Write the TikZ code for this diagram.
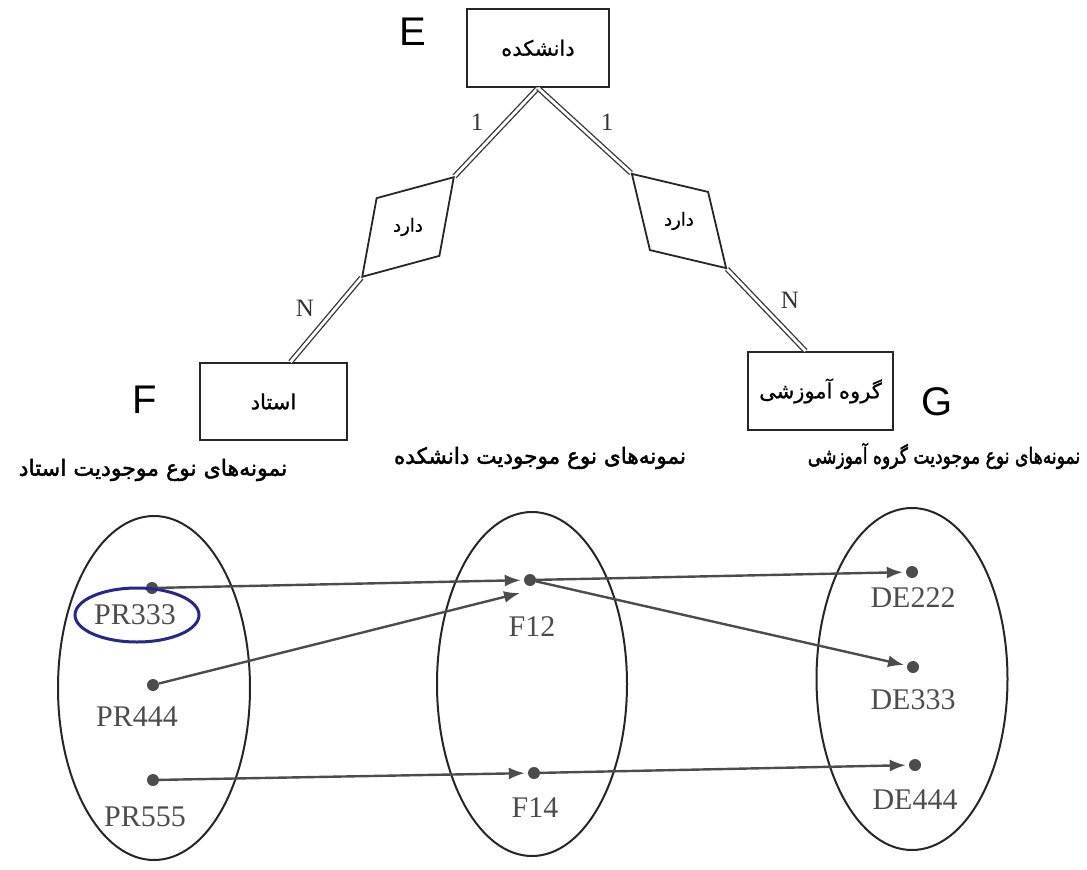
\documentclass[tikz,border=0pt]{standalone}
\usepackage{fontspec}
\setmainfont{Liberation Serif}
\newfontfamily\fafont[Script=Arabic,FakeBold=0.8]{DejaVu Sans}
\newfontfamily\faheadfont[Script=Arabic,FakeBold=2]{DejaVu Sans}
\newfontfamily\tagfont{Liberation Sans}
\TeXXeTstate=1
\usetikzlibrary{positioning,arrows.meta,calc,shapes.geometric}
\definecolor{ringblue}{RGB}{38,38,140}
\newcommand{\rtl}[1]{\beginR #1\endR}

\begin{document}
\begin{tikzpicture}[x=1pt, y=-1pt, >={Latex[length=16pt,width=12pt]},
    entity/.style={draw=black!85, line width=2pt, minimum width=142pt,
      minimum height=78pt, font=\fafont\fontsize{21}{24}\selectfont},
    relship/.style={diamond, draw=black!85, line width=1.8pt,
      minimum width=136pt, minimum height=86pt, inner sep=0pt},
    link/.style={draw=black!80, line width=1.3pt, double=white, double distance=2.8pt},
    card/.style={font=\fontsize{25}{28}\selectfont, text=black!80},
    tag/.style={font=\tagfont\fontsize{40}{44}\selectfont},
    head/.style={font=\faheadfont\fontsize{22}{26}\selectfont},
    setbox/.style={ellipse, draw=black!85, line width=2pt,
      minimum width=192pt, minimum height=344pt},
    inst/.style={circle, fill=black!70, minimum size=12pt, inner sep=0pt},
    val/.style={font=\fontsize{30}{34}\selectfont, text=black!70},
    flow/.style={->, draw=black!70, line width=2.4pt, shorten >=3pt}]
  \useasboundingbox (0,0) rectangle (1087,870);

  % ER part
  \node[entity] (fac) at (538,48) {\rtl{دانشکده}};
  \node[entity, minimum width=147pt, minimum height=77pt] (prof) at (273.5,401.5) {\rtl{استاد}};
  \node[entity, minimum width=145pt] (dept) at (820.5,391) {\rtl{گروه آموزشی}};

  \node[relship, rotate=47.4] (hasL) at (408,227) {};
  \node[font=\fafont\fontsize{18}{20}\selectfont] (hasLtxt) at (hasL) {\rtl{دارد}};
  \node[relship, rotate=-45, minimum width=134pt, minimum height=83pt] (hasR) at (679,221) {};
  \node[font=\fafont\fontsize{18}{20}\selectfont] (hasRtxt) at (hasR) {\rtl{دارد}};

  \draw[link] (fac.south) -- (hasL.east);
  \draw[link] (hasL.west) -- ($(prof.north)+(17,0)$);
  \draw[link] (fac.south) -- (hasR.west);
  \draw[link] (hasR.east) -- ($(dept.north)+(-15,0)$);

  \node[card] (oneL) at (477,122) {1};
  \node[card] (oneR) at (607,122) {1};
  \node[card] (manyL) at (305,308) {N};
  \node[card] (manyR) at (790,300) {N};

  \node[tag] (tagE) at (413,32) {E};
  \node[tag] (tagF) at (145,400) {F};
  \node[tag] (tagG) at (937,402) {G};

  % instance sets
  \node[head] (hProf) at (153,470) {\rtl{نمونه‌های نوع موجودیت استاد}};
  \node[head, xscale=0.98] (hFac) at (540,458) {\rtl{نمونه‌های نوع موجودیت دانشکده}};
  \node[head, xscale=0.78] (hDept) at (944,456) {\rtl{نمونه‌های نوع موجودیت گروه آموزشی}};

  \node[setbox] (setP) at (154,688) {};
  \node[setbox, minimum width=190pt] (setF) at (532,684) {};
  \node[setbox, minimum width=191pt, minimum height=342pt] (setD) at (912,679) {};

  \foreach \n/\dx/\dy/\tx/\ty/\lab in {p333/152/588/135/615/PR333,
      p444/153/685/137/717/PR444, p555/153/780/145/817/PR555,
      f12/530/580/532/627/F12, f14/534/773/535/808/F14,
      d222/912/572/913/598/DE222, d333/913/667/913/700/DE333,
      d444/915/765/915/800/DE444} {
    \node[inst] (\n) at (\dx,\dy) {};
    \node[val] (\n lab) at (\tx,\ty) {\lab};
  }

  \node[ellipse, draw=ringblue, line width=3pt, minimum width=124pt,
    minimum height=54pt] (ring) at (137,615) {};

  \coordinate (f12in) at (520,593);
  \draw[flow] (p333) -- (f12);
  \draw[flow, shorten >=0pt] (p444) -- (f12in);
  \draw[flow] (p555) -- (f14);
  \draw[flow] (f12) -- (d222);
  \draw[flow] (f12) -- (d333);
  \draw[flow] (f14) -- (d444);
\end{tikzpicture}
\end{document}
